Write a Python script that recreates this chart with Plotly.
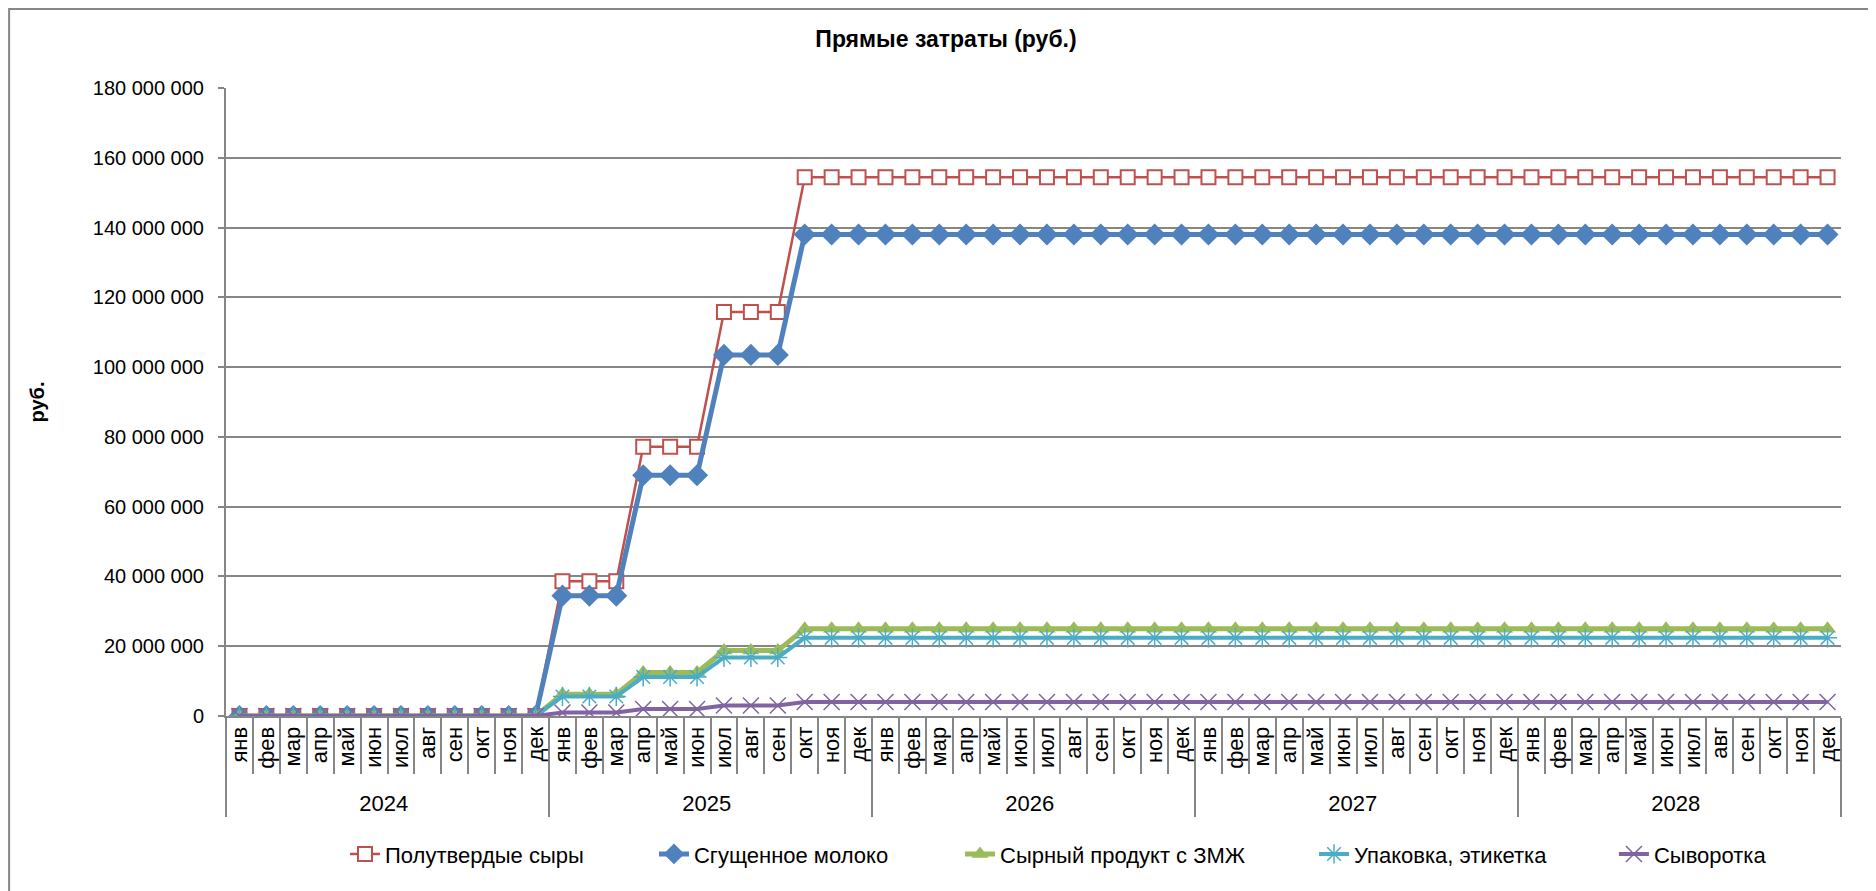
import plotly.graph_objects as go

# =============================================================================
# DATA (руб.)
# =============================================================================

years = ["2024", "2025", "2026", "2027", "2028"]
months = ["янв", "фев", "мар", "апр", "май", "июн", "июл", "авг", "сен", "окт", "ноя", "дек"]

polutverdye = (
    [0, 0, 0, 0, 0, 0, 0, 0, 0, 0, 0, 0]
    + [38600000, 38600000, 38600000, 77200000, 77200000, 77200000,
       115800000, 115800000, 115800000, 154400000, 154400000, 154400000]
    + [154400000] * 12
    + [154400000] * 12
    + [154400000] * 12
)
sgushchennoe = (
    [0, 0, 0, 0, 0, 0, 0, 0, 0, 0, 0, 0]
    + [34500000, 34500000, 34500000, 69000000, 69000000, 69000000,
       103500000, 103500000, 103500000, 138000000, 138000000, 138000000]
    + [138000000] * 12
    + [138000000] * 12
    + [138000000] * 12
)
syrny_produkt = (
    [0, 0, 0, 0, 0, 0, 0, 0, 0, 0, 0, 0]
    + [6250000, 6250000, 6250000, 12500000, 12500000, 12500000,
       18750000, 18750000, 18750000, 25000000, 25000000, 25000000]
    + [25000000] * 12
    + [25000000] * 12
    + [25000000] * 12
)
upakovka = (
    [0, 0, 0, 0, 0, 0, 0, 0, 0, 0, 0, 0]
    + [5600000, 5600000, 5600000, 11200000, 11200000, 11200000,
       16800000, 16800000, 16800000, 22400000, 22400000, 22400000]
    + [22400000] * 12
    + [22400000] * 12
    + [22400000] * 12
)
syvorotka = (
    [0, 0, 0, 0, 0, 0, 0, 0, 0, 0, 0, 0]
    + [1000000, 1000000, 1000000, 2000000, 2000000, 2000000,
       3000000, 3000000, 3000000, 4000000, 4000000, 4000000]
    + [4000000] * 12
    + [4000000] * 12
    + [4000000] * 12
)

x_years = [y for y in years for _ in months]
x_months = months * len(years)
x = [x_years, x_months]

FONT = "Liberation Sans, Arial, sans-serif"
GRID = "#868686"

# =============================================================================
# FIGURE
# =============================================================================

fig = go.Figure()

fig.add_trace(go.Scatter(
    x=x, y=polutverdye, name="Полутвердые сыры", mode="lines+markers",
    line=dict(color="#C0504D", width=2.5),
    marker=dict(symbol="square", size=14, color="white",
                line=dict(color="#C0504D", width=2)),
    legend="legend",
))
fig.add_trace(go.Scatter(
    x=x, y=sgushchennoe, name="Сгущенное молоко", mode="lines+markers",
    line=dict(color="#4F81BD", width=5),
    marker=dict(symbol="diamond", size=17, color="#4F81BD"),
    legend="legend2",
))
fig.add_trace(go.Scatter(
    x=x, y=syrny_produkt, name="Сырный продукт с ЗМЖ", mode="lines+markers",
    line=dict(color="#9BBB59", width=5),
    marker=dict(symbol="triangle-up", size=15, color="#9BBB59"),
    legend="legend3",
))
fig.add_trace(go.Scatter(
    x=x, y=upakovka, name="Упаковка, этикетка", mode="lines+markers",
    line=dict(color="#4BACC6", width=4),
    marker=dict(symbol="asterisk-open", size=16,
                line=dict(color="#4BACC6", width=1.5)),
    legend="legend4",
))
fig.add_trace(go.Scatter(
    x=x, y=syvorotka, name="Сыворотка", mode="lines+markers",
    line=dict(color="#8064A2", width=4),
    marker=dict(symbol="x-thin-open", size=16,
                line=dict(color="#8064A2", width=1.5)),
    legend="legend5",
))

# one legend per series so each entry sits where it does in the original
legend_style = dict(orientation="h", xanchor="left", y=-0.22, yanchor="middle",
                    font=dict(size=22), bgcolor="rgba(0,0,0,0)")

# page body adds ~8px offset, so layout positions are shifted by -8
fig.update_layout(
    width=1876, height=891,
    margin=dict(l=218, r=43, t=80, b=183),
    paper_bgcolor="white", plot_bgcolor="white",
    font=dict(family=FONT, size=20, color="black"),
    separators=", ",
    title=dict(text="<b>Прямые затраты (руб.)</b>", x=0.5, xanchor="center",
               y=0.965, yanchor="middle", font=dict(size=23)),
    legend=dict(x=0.0737, **legend_style),
    legend2=dict(x=0.2650, **legend_style),
    legend3=dict(x=0.4545, **legend_style),
    legend4=dict(x=0.6737, **legend_style),
    legend5=dict(x=0.8594, **legend_style),
    showlegend=True,
)

fig.update_xaxes(
    type="multicategory",
    range=[-0.5, 59.5],
    tickmode="linear", tick0=0, dtick=1,
    showline=True, linecolor=GRID, linewidth=2,
    ticks="outside", ticklen=56, tickcolor=GRID, tickwidth=2,
    tickangle=-90, tickfont=dict(size=22),
    showdividers=True, dividercolor=GRID, dividerwidth=2,
    showgrid=False,
)

fig.update_yaxes(
    range=[0, 180000000], dtick=20000000, tickformat=",d",
    showgrid=True, gridcolor=GRID, gridwidth=2,
    showline=True, linecolor=GRID, linewidth=2,
    ticks="outside", ticklen=6, tickcolor=GRID, tickwidth=2,
    tickfont=dict(size=20), ticklabelstandoff=10,
    zeroline=False,
    title=dict(text="<b>руб.</b>", font=dict(size=20), standoff=43),
)

# outer chart border
fig.add_shape(type="rect", xref="paper", yref="paper",
              x0=-0.1343, x1=1.0186, y0=-0.3, y1=1.1258,
              line=dict(color=GRID, width=2), layer="below")

fig.write_html("out.html")
